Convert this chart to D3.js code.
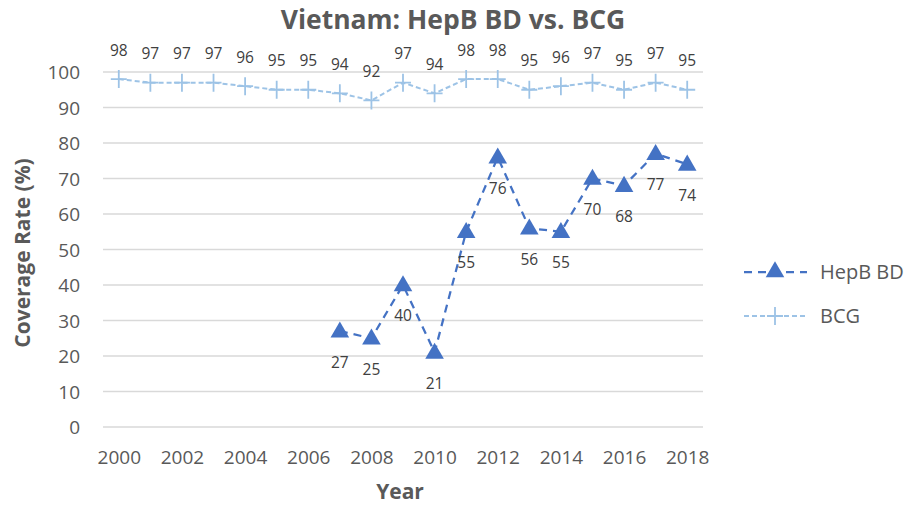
<!DOCTYPE html>
<html>
<head>
<meta charset="utf-8">
<script src="https://cdn.jsdelivr.net/npm/d3@7"></script>
<style>
  body { margin: 0; background: #fff; }
  text { font-family: "Open Sans", "Noto Sans", sans-serif; }
</style>
</head>
<body>
<div id="chart"></div>
<script>
// data
const years = d3.range(2000, 2019);
const bcg = [98, 97, 97, 97, 96, 95, 95, 94, 92, 97, 94, 98, 98, 95, 96, 97, 95, 97, 95];
const hepbYears = [2007, 2008, 2009, 2010, 2011, 2012, 2013, 2014, 2015, 2016, 2017, 2018];
const hepb = [27, 25, 40, 21, 55, 76, 56, 55, 70, 68, 77, 74];
const yTicks = [0, 10, 20, 30, 40, 50, 60, 70, 80, 90, 100];
const xTickLabels = [2000, 2002, 2004, 2006, 2008, 2010, 2012, 2014, 2016, 2018];

let width = 908, height = 505,
  margin = ({ top: 72, right: 205, bottom: 78, left: 103 });

const svg = d3.select("#chart")
  .append("svg")
  .attr("width", width)
  .attr("height", height);

let x = d3.scalePoint()
  .domain(years)
  .range([margin.left, width - margin.right])
  .padding(0.5);

let y = d3.scaleLinear()
  .domain([0, 100])
  .range([height - margin.bottom, margin.top]);

const grey = "#595959";

// gridlines
svg.append("g")
  .selectAll("line")
  .data(yTicks)
  .join("line")
  .attr("x1", margin.left)
  .attr("x2", width - margin.right)
  .attr("y1", d => y(d))
  .attr("y2", d => y(d))
  .attr("stroke", "#d9d9d9")
  .attr("stroke-width", 1.3);

// y axis labels
svg.append("g")
  .attr("transform", `translate(${margin.left - 20},0)`)
  .call(d3.axisLeft(y).tickValues(yTicks).tickSize(0))
  .call(g => g.select(".domain").remove())
  .call(g => g.selectAll("text")
    .attr("fill", grey)
    .style("font-size", "19px")
    .attr("dy", "0.35em"));

// x axis labels
svg.append("g")
  .attr("transform", `translate(0,${height - margin.bottom + 30})`)
  .call(d3.axisBottom(x).tickValues(xTickLabels).tickSize(0))
  .call(g => g.select(".domain").remove())
  .call(g => g.selectAll("text")
    .attr("fill", grey)
    .style("font-size", "19px")
    .attr("y", 0)
    .attr("dy", "0.35em"));

// title
svg.append("text")
  .attr("x", 453)
  .attr("y", 29)
  .attr("text-anchor", "middle")
  .attr("fill", grey)
  .style("font-size", "26.5px")
  .style("font-weight", "bold")
  .text("Vietnam: HepB BD vs. BCG");

svg.append("text")
  .attr("x", 400)
  .attr("y", 499)
  .attr("text-anchor", "middle")
  .attr("fill", grey)
  .style("font-size", "21px")
  .style("font-weight", "bold")
  .text("Year");

svg.append("text")
  .attr("transform", `translate(23,253) rotate(-90)`)
  .attr("dy", "0.35em")
  .attr("text-anchor", "middle")
  .attr("fill", grey)
  .style("font-size", "21px")
  .style("font-weight", "bold")
  .text("Coverage Rate (%)");

const bcgData = years.map((yr, i) => ({ year: yr, value: bcg[i] }));
const hepbData = hepbYears.map((yr, i) => ({ year: yr, value: hepb[i] }));

let line = d3.line()
  .x(d => x(d.year))
  .y(d => y(d.value));

// BCG series
svg.append("path")
  .datum(bcgData)
  .attr("d", line)
  .attr("fill", "none")
  .attr("stroke", "#9dc3e6")
  .attr("stroke-width", 2)
  .attr("stroke-dasharray", "5,3");

svg.append("g")
  .selectAll("path")
  .data(bcgData)
  .join("path")
  .attr("d", d => `M${x(d.year) - 8},${y(d.value)}h16M${x(d.year)},${y(d.value) - 9}v18`)
  .attr("stroke", "#9dc3e6")
  .attr("stroke-width", 1.8);

svg.append("g")
  .selectAll("text")
  .data(bcgData)
  .join("text")
  .attr("x", d => x(d.year))
  .attr("y", d => y(d.value) - 29)
  .attr("dy", "0.35em")
  .attr("text-anchor", "middle")
  .attr("fill", "#404040")
  .style("font-size", "15.5px")
  .text(d => d.value);

// HepB BD series
svg.append("path")
  .datum(hepbData)
  .attr("d", line)
  .attr("fill", "none")
  .attr("stroke", "#4472c4")
  .attr("stroke-width", 2.25)
  .attr("stroke-dasharray", "8,6");

let tri = d3.symbol().type(d3.symbolTriangle).size(150);

svg.append("g")
  .selectAll("path")
  .data(hepbData)
  .join("path")
  .attr("transform", d => `translate(${x(d.year)},${y(d.value) + 1})`)
  .attr("d", tri)
  .attr("fill", "#4472c4");

svg.append("g")
  .selectAll("text")
  .data(hepbData)
  .join("text")
  .attr("x", d => x(d.year))
  .attr("y", d => y(d.value) + 31)
  .attr("dy", "0.35em")
  .attr("text-anchor", "middle")
  .attr("fill", "#404040")
  .style("font-size", "15.5px")
  .text(d => d.value);

// legend
const legend = svg.append("g");
const legendItems = [
  { name: "HepB BD", color: "#4472c4", dash: "8,6", w: 2.25, marker: "tri", yy: 272 },
  { name: "BCG", color: "#9dc3e6", dash: "5,3", w: 2, marker: "plus", yy: 316 }
];
legendItems.forEach(it => {
  legend.append("line")
    .attr("x1", 744).attr("x2", 807)
    .attr("y1", it.yy).attr("y2", it.yy)
    .attr("stroke", it.color)
    .attr("stroke-width", it.w)
    .attr("stroke-dasharray", it.dash);
  if (it.marker === "tri") {
    legend.append("path")
      .attr("transform", `translate(775,${it.yy})`)
      .attr("d", tri)
      .attr("fill", it.color);
  } else {
    legend.append("path")
      .attr("d", `M767,${it.yy}h16M775,${it.yy - 9}v18`)
      .attr("stroke", it.color)
      .attr("stroke-width", 1.8);
  }
  legend.append("text")
    .attr("x", 820)
    .attr("y", it.yy)
    .attr("dy", "0.35em")
    .attr("fill", grey)
    .style("font-size", "20px")
    .text(it.name);
});
</script>
</body>
</html>
